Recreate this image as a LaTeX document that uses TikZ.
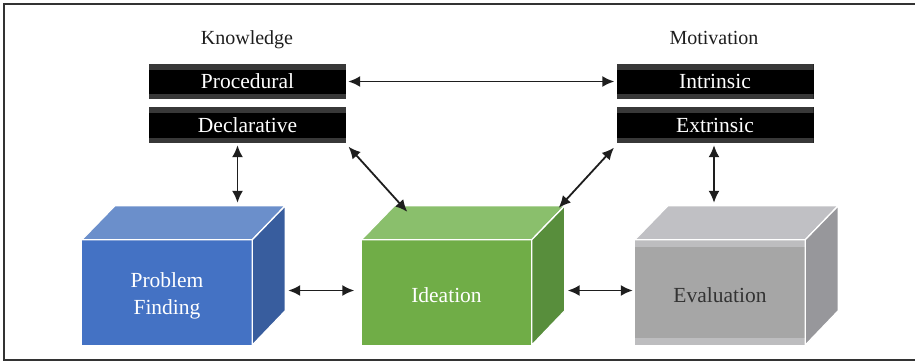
\documentclass[tikz,border=0pt]{standalone}
\usepackage{fontspec}
\setmainfont{Liberation Serif}
\usetikzlibrary{arrows.meta}

\definecolor{pfFront}{HTML}{4472C4}
\definecolor{pfTop}{HTML}{6B8FCB}
\definecolor{pfSide}{HTML}{385D9E}
\definecolor{idFront}{HTML}{70AD47}
\definecolor{idTop}{HTML}{8ABF6C}
\definecolor{idSide}{HTML}{588E3C}
\definecolor{evFront}{HTML}{A6A6A6}
\definecolor{evStripe}{HTML}{BDBDBF}
\definecolor{evTop}{HTML}{C0C0C4}
\definecolor{evSide}{HTML}{97979B}
\definecolor{ink}{HTML}{1E1E1E}

\tikzset{
  title/.style={text=ink, font=\fontsize{20}{22}\selectfont},
  bar/.style={fill=black, minimum width=197pt, minimum height=35pt, inner sep=0pt,
    text=white, font=\fontsize{21.5}{24}\selectfont,
    path picture={
      \fill[black!78] (path picture bounding box.north west) rectangle ([yshift=-6pt]path picture bounding box.north east);
      \fill[black!78] (path picture bounding box.south west) rectangle ([yshift=5pt]path picture bounding box.south east);
    }},
  front/.style={minimum width=170pt, minimum height=105pt, inner sep=0pt},
  cubetext/.style={align=center, text=white, font=\fontsize{21.5}{27}\selectfont},
  face/.style={draw=white, line width=1.3pt, line join=round},
  link/.style={{Latex[length=12pt,width=11pt]}-{Latex[length=12pt,width=11pt]}, line width=1.8pt, ink},
}

% cuboid: name, centre of front face, front style, top colour, side colour, text
\newcommand{\cuboid}[6]{
  \node[front, #3] (#1) at (#2) {};
  \node[cubetext, #3, fill=none, path picture={}] (#1-txt) at ([yshift=-3pt]#1.center) {#6};
  \coordinate (#1-bl) at ([shift={(33pt,34pt)}]#1.north west);
  \coordinate (#1-br) at ([shift={(33pt,34pt)}]#1.north east);
  \filldraw[face, fill=#4] (#1.north west) -- (#1-bl) -- (#1-br) -- (#1.north east) -- cycle;  % top face
  \filldraw[face, fill=#5] (#1.north east) -- (#1-br) -- ++(0,105) -- (#1.south east) -- cycle;  % side face
}

\begin{document}
\begin{tikzpicture}[x=1pt, y=-1pt]
      \useasboundingbox (0,0) rectangle (915,362);
      \draw[black!80, line width=1.2pt] (915,4) -- (4,4) -- (4,360) -- (915,360);   % frame
      %
      \node[title] (know) at (247,40) {Knowledge};
      \node[title] (motiv) at (714,38) {Motivation};
      %
      \node[bar] (proc) at (247.5,81.5) {Procedural};
      \node[bar, minimum height=36pt] (decl) at (247.5,125) {Declarative};
      \node[bar] (intr) at (715,81.5) {Intrinsic};
      \node[bar, minimum height=36pt] (extr) at (715,125) {Extrinsic};
      %
      \cuboid{pf}{167,292.5}{fill=pfFront}{pfTop}{pfSide}{Problem\\Finding}
      \cuboid{id}{446.5,292.5}{fill=idFront}{idTop}{idSide}{Ideation}
      \cuboid{ev}{720,292.5}{fill=evFront, text=black!80,
        path picture={
          \fill[evStripe] (path picture bounding box.north west) rectangle ([yshift=-7pt]path picture bounding box.north east);
          \fill[evStripe] (path picture bounding box.south west) rectangle ([yshift=7pt]path picture bounding box.south east);
        }}{evTop}{evSide}{Evaluation}
      %
      \draw[link, shorten <=2pt, shorten >=2pt] (proc.east) -- (intr.west);
      \draw[link, shorten <=2pt, shorten >=3pt] ([xshift=-10pt]decl.south) -- ([xshift=-10pt]decl.south |- pf-bl);
      \draw[link, shorten <=2pt, shorten >=3pt] ([xshift=-1pt]extr.south) -- ([xshift=-1pt]extr.south |- ev-bl);
      \draw[link, shorten <=2pt] ([shift={(1pt,-2pt)}]decl.south east) -- ([shift={(13pt,-6pt)}]id-bl);
      \draw[link, shorten <=2pt] ([shift={(-1pt,-3pt)}]extr.south west) -- ([shift={(-6pt,-2pt)}]id-br);
      \draw[link] ([shift={(36pt,2pt)}]pf.east) -- ([shift={(-7pt,2pt)}]id.west);
      \draw[link] ([shift={(36pt,2pt)}]id.east) -- ([shift={(-2pt,2pt)}]ev.west);
      %
    \end{tikzpicture}
\end{document}
